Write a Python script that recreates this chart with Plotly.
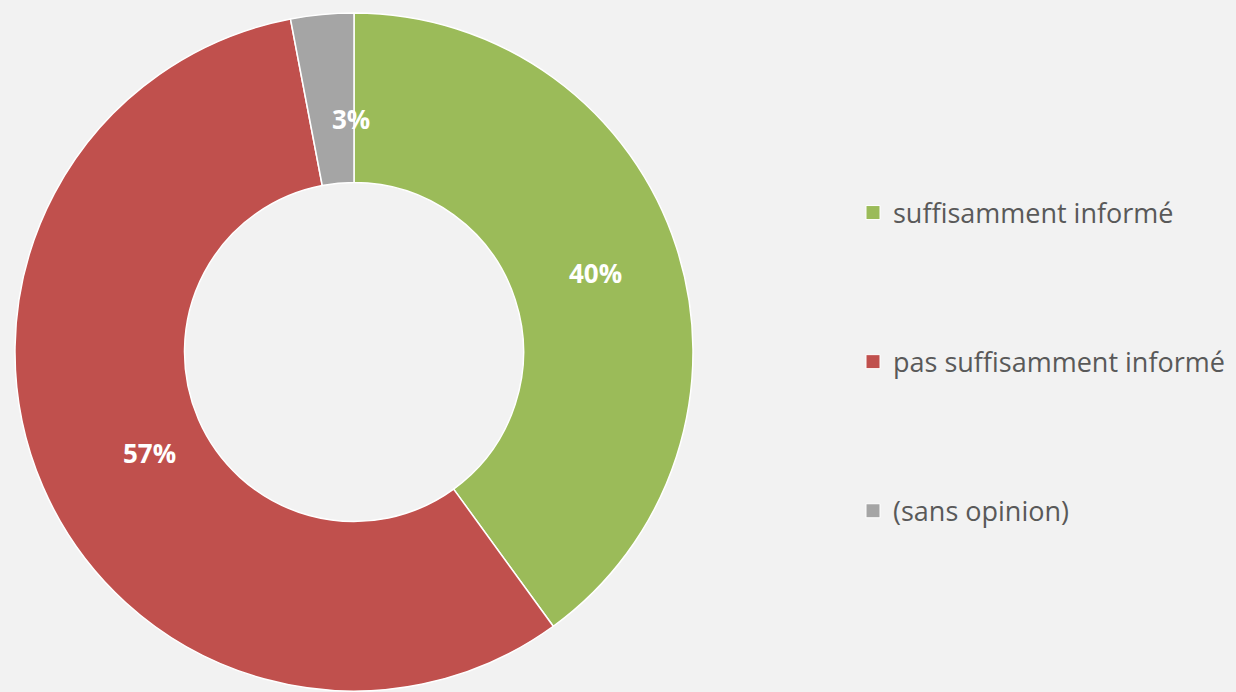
import math
import plotly.graph_objects as go

labels = ["suffisamment informé", "pas suffisamment informé", "(sans opinion)"]
values = [40, 57, 3]
colors = ["#9bbb59", "#c0504d", "#a5a5a5"]

W, H = 1236, 692
HOLE = 0.5

# donut placement in pixels (center and outer radius)
cx, cy, R = 354, 352, 339

pie = go.Pie(
    labels=labels,
    values=values,
    hole=HOLE,
    sort=False,
    direction="clockwise",
    rotation=0,
    marker=dict(colors=colors, line=dict(color="white", width=1.5)),
    textinfo="none",
    domain=dict(x=[(cx - R) / W, (cx + R) / W],
                y=[1 - (cy + R) / H, 1 - (cy - R) / H]),
    showlegend=False,
    hoverinfo="label+percent",
)

# legend entries drawn as dummy traces so the items can be spread out
legend_traces = []
for i, (lab, col) in enumerate(zip(labels, colors)):
    legend_traces.append(go.Scatter(
        x=[None], y=[None], mode="markers", name=lab,
        legendgroup=str(i),
        marker=dict(symbol="square", size=14, color=col,
                    line=dict(color="white", width=1)),
    ))

fig = go.Figure(data=[pie] + legend_traces)

# percentage labels at the middle of each ring segment
total = sum(values)
r_mid = R * (1 + HOLE) / 2
cum = 0
for v in values:
    ang = math.radians((cum + v / 2) / total * 360)
    cum += v
    px = cx + r_mid * math.sin(ang)
    py = cy - r_mid * math.cos(ang)
    fig.add_annotation(
        x=px / W, y=1 - py / H, xref="paper", yref="paper",
        text=f"{round(v / total * 100)}%", showarrow=False,
        font=dict(family="Open Sans", size=26, color="white", weight="bold"),
    )

fig.update_layout(
    width=W, height=H,
    margin=dict(l=0, r=0, t=0, b=0),
    paper_bgcolor="#f2f2f2",
    plot_bgcolor="#f2f2f2",
    xaxis=dict(visible=False),
    yaxis=dict(visible=False),
    legend=dict(
        x=853 / W, xanchor="left",
        y=1 - 362 / H, yanchor="middle",
        tracegroupgap=111,
        font=dict(family="Open Sans", size=27, color="#595959"),
        bgcolor="rgba(0,0,0,0)",
    ),
)

fig.write_html("out.html",
               config={"displayModeBar": False},
               post_script="document.body.style.margin='0';"
                           "document.body.style.background='#f2f2f2';")
